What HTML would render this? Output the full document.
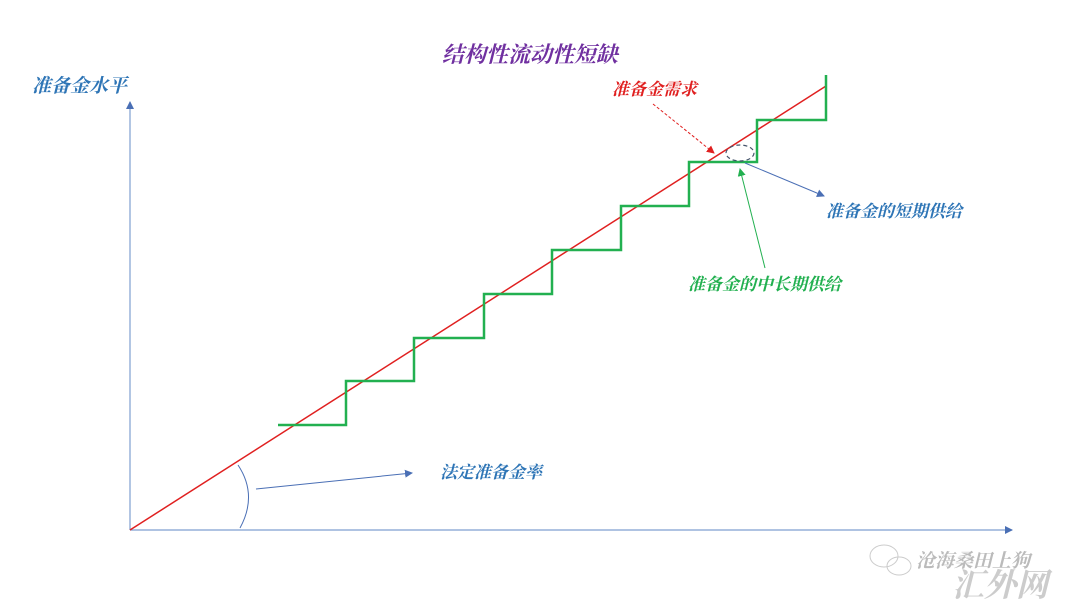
<!DOCTYPE html>
<html><head><meta charset="utf-8"><style>
body{margin:0;background:#fff;}
svg text{font-family:"Liberation Serif","Noto Serif CJK SC","Noto Sans CJK SC",serif;font-style:italic;font-weight:bold;}
</style></head><body>
<svg width="1080" height="608" viewBox="0 0 1080 608" xmlns="http://www.w3.org/2000/svg">
<defs>
<marker id="ab" markerWidth="8" markerHeight="8" refX="7" refY="4" orient="auto" markerUnits="userSpaceOnUse"><path d="M0,0 L8,4 L0,8z" fill="#4a6fb5"/></marker>
<marker id="ar" markerWidth="8" markerHeight="8" refX="7" refY="4" orient="auto" markerUnits="userSpaceOnUse"><path d="M0,0 L8,4 L0,8z" fill="#e02020"/></marker>
<marker id="ag" markerWidth="8" markerHeight="8" refX="7" refY="4" orient="auto" markerUnits="userSpaceOnUse"><path d="M0,0 L8,4 L0,8z" fill="#22b050"/></marker>
</defs>
<text x="530" y="62" font-size="22" fill="#7030a0" text-anchor="middle">结构性流动性短缺</text>
<text x="32" y="92" font-size="19" fill="#2e75b6">准备金水平</text>
<line x1="130" y1="530" x2="130" y2="102" stroke="#7f9fd0" stroke-width="1.2" marker-end="url(#ab)"/>
<line x1="130" y1="530" x2="1012" y2="530" stroke="#7f9fd0" stroke-width="1.2" marker-end="url(#ab)"/>
<line x1="130" y1="530" x2="826" y2="86" stroke="#e02020" stroke-width="1.5"/>
<polyline fill="none" stroke="#22b050" stroke-width="2.5" points="278,425 346,425 346,381 414,381 414,338 484,338 484,294 552,294 552,250 621,250 621,206 689,206 689,162 757,162 757,120 826,120 826,75"/>
<path d="M238,465 Q258,495 240,528" fill="none" stroke="#4a6fb5" stroke-width="1"/>
<line x1="256" y1="489" x2="412" y2="473" stroke="#4a6fb5" stroke-width="1" marker-end="url(#ab)"/>
<text x="440" y="478" font-size="17" fill="#2e75b6">法定准备金率</text>
<text x="612" y="95" font-size="17" fill="#e02020">准备金需求</text>
<line x1="653" y1="104" x2="714" y2="153" stroke="#e02020" stroke-width="1" stroke-dasharray="3,2" marker-end="url(#ar)"/>
<ellipse cx="740" cy="153" rx="14" ry="8" fill="none" stroke="#44546a" stroke-width="1.2" stroke-dasharray="4,3"/>
<line x1="745" y1="163" x2="824" y2="196" stroke="#4a6fb5" stroke-width="1" marker-end="url(#ab)"/>
<text x="826" y="217" font-size="17" fill="#2e75b6">准备金的短期供给</text>
<line x1="765" y1="268" x2="740" y2="169" stroke="#22b050" stroke-width="1" marker-end="url(#ag)"/>
<text x="688" y="290" font-size="17" fill="#22b050">准备金的中长期供给</text>
<text x="916" y="567" font-size="19" fill="#bbb" font-style="normal" font-weight="normal">沧海桑田上狗</text>
<text x="952" y="596" font-size="32" fill="#ccc" font-style="normal" font-weight="normal">汇外网</text>
<ellipse cx="884" cy="556" rx="14" ry="11" fill="none" stroke="#ccc"/>
<ellipse cx="899" cy="566" rx="12" ry="9" fill="none" stroke="#ccc"/>
</svg>
</body></html>
